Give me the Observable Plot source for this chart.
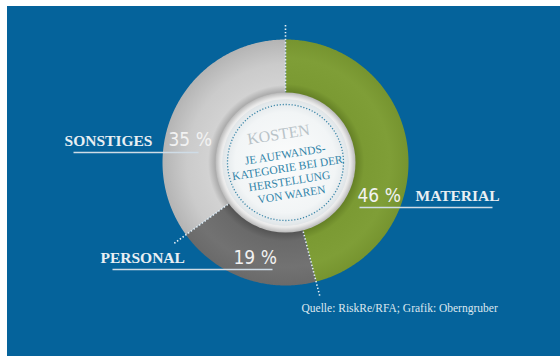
<!DOCTYPE html>
<html>
<head>
<meta charset="utf-8">
<script src="https://cdn.jsdelivr.net/npm/d3@7"></script>
<script src="https://cdn.jsdelivr.net/npm/@observablehq/plot@0.6"></script>
<style>
  html, body { margin: 0; padding: 0; background: #ffffff; }
  #wrap { padding: 6px 0 0 7px; width: 553px; height: 350px; }
  svg { display: block; }
  g[font-family*="DejaVu Sans"] { font-stretch: condensed; }
</style>
</head>
<body>
<div id="wrap"></div>
<script>
// ---- data ----
const categories = ["MATERIAL", "PERSONAL", "SONSTIGES"];
const values = [46, 19, 35];
const percentLabels = ["46 %", "19 %", "35 %"];
const centerTitle = "KOSTEN";
const centerLines = ["JE AUFWANDS-", "KATEGORIE BEI DER", "HERSTELLUNG", "VON WAREN"];
const sourceText = "Quelle: RiskRe/RFA; Grafik: Oberngruber";

// ---- layout / style ----
const W = 553, H = 350;
const cx = 278, cy = 156, R = 123, R0 = 68;
const sliceFill = {MATERIAL: "url(#gMat)", PERSONAL: "url(#gPer)", SONSTIGES: "url(#gSon)"};
const labelLayout = {
  MATERIAL:  {nx: 408, ny: 194, anchor: "start", px: 350, py: 195, rx1: 352, rx2: 485, ry: 201},
  PERSONAL:  {nx: 93,  ny: 256, anchor: "start", px: 226, py: 257, rx1: 105, rx2: 265, ry: 263},
  SONSTIGES: {nx: 145, ny: 139, anchor: "end",   px: 161, py: 139, rx1: 66,  rx2: 191, ry: 146}
};
const labelColor = "#e9eff3";
const serif = "'Liberation Serif', serif";
const narrow = "'DejaVu Sans', sans-serif";

// ---- geometry from data ----
const pie = d3.pie().sort(null).value(d => d)(values);
const pt = (a, r) => ({x: cx + r * Math.sin(a), y: cy - r * Math.cos(a)});
const ringPts = pie.flatMap((s, i) => {
  const n = Math.max(12, Math.ceil((s.endAngle - s.startAngle) / 0.01));
  const out = [];
  for (let k = 0; k <= n; ++k) out.push({cat: categories[i], ...pt(s.startAngle + (s.endAngle - s.startAngle) * k / n, R)});
  for (let k = n; k >= 0; --k) out.push({cat: categories[i], ...pt(s.startAngle + (s.endAngle - s.startAngle) * k / n, R0)});
  return out;
});
const dividers = pie.map(s => {
  const p1 = pt(s.startAngle, R0), p2 = pt(s.startAngle, 139);
  return {x1: p1.x, y1: p1.y, x2: p2.x, y2: p2.y};
});
const labels = categories.map((c, i) => ({cat: c, pct: percentLabels[i], ...labelLayout[c]}));

const rot = -9 * Math.PI / 180;
const centerText = centerLines.map((t, i) => {
  const dy = -8 + i * 13.5;
  return {t, x: cx + 1 - Math.sin(rot) * dy, y: cy + Math.cos(rot) * dy};
});

const defs = () => {
  const d = d3.create("svg:defs");
  const rg = (id, stops, r = R) => {
    const g = d.append("radialGradient").attr("id", id).attr("gradientUnits", "userSpaceOnUse")
      .attr("cx", cx).attr("cy", cy).attr("r", r);
    stops.forEach(([o, c]) => g.append("stop").attr("offset", o).attr("stop-color", c));
  };
  rg("gMat", [[0.55, "#5f7a22"], [0.64, "#7b9a33"], [0.85, "#7f9e37"], [1, "#76942f"]]);
  rg("gPer", [[0.55, "#4e4e4e"], [0.64, "#6a6a6a"], [0.85, "#727272"], [1, "#6a6a6a"]]);
  rg("gSon", [[0.55, "#9d9d9d"], [0.63, "#d2d2d2"], [0.8, "#cbcbcb"], [1, "#b4b4b4"]]);
  rg("gLens", [[0.85, "#ffffff"], [0.93, "#e8e8e8"], [1, "#b9b9b9"]], 70);
  rg("gInner", [[0, "#fbfcfc"], [0.8, "#f2f5f6"], [1, "#e0e6e9"]], 63);
  return d.node();
};

const nameStyle = {fill: labelColor, fontFamily: serif, fontSize: 15.5, fontWeight: "bold", letterSpacing: 0.4, lineAnchor: "bottom"};

const chart = Plot.plot({
  width: W, height: H, margin: 0,
  x: {domain: [0, W], range: [0, W], axis: null},
  y: {domain: [0, H], range: [0, H], axis: null},
  color: {type: "identity"},
  style: {background: "#05639b", overflow: "visible"},
  marks: [
    defs,
    Plot.line(ringPts, {x: "x", y: "y", z: "cat", fill: d => sliceFill[d.cat], stroke: "none", curve: "linear"}),
    Plot.link(dividers, {x1: "x1", y1: "y1", x2: "x2", y2: "y2", stroke: "#e6eef4", strokeWidth: 1.6, strokeDasharray: "1.4 2"}),
    // lens
    Plot.dot([{x: cx, y: cy}], {x: "x", y: "y", r: 70, fill: "url(#gLens)", stroke: "none"}),
    Plot.dot([{x: cx, y: cy}], {x: "x", y: "y", r: 63, fill: "url(#gInner)", stroke: "#e2e6e8", strokeWidth: 1}),
    Plot.dot([{x: cx, y: cy}], {x: "x", y: "y", r: 58, fill: "none", stroke: "#3b86a8", strokeWidth: 1.3, strokeDasharray: "1.2 1.8"}),
    // center texts
    Plot.text([centerTitle], {x: () => cx - 7, y: () => cy - 28, text: d => d, rotate: -9, fill: "#b9c3c8",
      fontFamily: serif, fontSize: 16, letterSpacing: 0.5, textAnchor: "middle"}),
    Plot.text(centerText, {x: "x", y: "y", text: "t", rotate: -9, fill: "#2f83a8",
      fontFamily: serif, fontSize: 11.5, letterSpacing: -0.3, textAnchor: "middle"}),
    // underlines
    Plot.link(labels, {x1: "rx1", x2: "rx2", y1: "ry", y2: "ry", stroke: "#cfdce6", strokeWidth: 1.6}),
    // names
    Plot.text(labels.filter(d => d.anchor === "start"), {x: "nx", y: "ny", text: "cat", textAnchor: "start", ...nameStyle}),
    Plot.text(labels.filter(d => d.anchor === "end"), {x: "nx", y: "ny", text: "cat", textAnchor: "end", ...nameStyle}),
    Plot.text(labels, {x: "px", y: "py", text: "pct", textAnchor: "start", fill: "#f2f2f2",
      fontFamily: narrow, fontSize: 19, lineAnchor: "bottom"}),
    Plot.text([sourceText], {x: () => 294, y: () => 305, text: d => d, textAnchor: "start", fill: "#dce7ef",
      fontFamily: serif, fontSize: 11.5, lineAnchor: "bottom"})
  ]
});
document.getElementById("wrap").appendChild(chart);
</script>
</body>
</html>
